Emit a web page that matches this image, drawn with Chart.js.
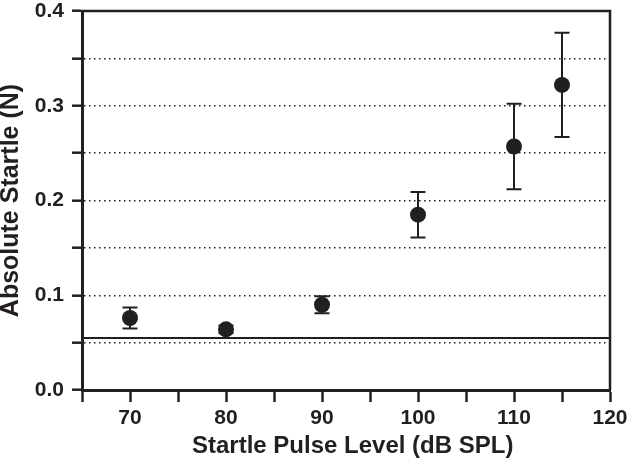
<!DOCTYPE html>
<html lang="en">
<head>
    <meta charset="UTF-8">
    <title>Absolute Startle</title>
    <script src="https://cdn.jsdelivr.net/npm/chart.js@4.4.1/dist/chart.umd.min.js"></script>
    <style>
        html, body { margin: 0; padding: 0; background: #fff; }
        #wrap { width: 630px; height: 464px; }
    </style>
</head>
<body>
    <div id="wrap"><canvas id="startleChart"></canvas></div>

    <script>
        // values
        const levels = [70, 80, 90, 100, 110, 115];
        const means = [0.076, 0.064, 0.090, 0.185, 0.257, 0.322];
        const errors = [0.011, 0.004, 0.009, 0.024, 0.045, 0.055];
        const baseline = 0.055;
        const xMin = 65, xMax = 120;
        const yMin = 0, yMax = 0.4;

        const ink = '#231f20';
        const fontFamily = '"Liberation Sans", Arial, Helvetica, sans-serif';

        const points = levels.map((x, i) => ({ x: x, y: means[i] }));
        const baseLine = [{ x: xMin, y: baseline }, { x: xMax, y: baseline }];

        // error bars drawn under the markers, through the chart scales
        const errorBars = {
            id: 'errorBars',
            beforeDatasetsDraw(chart) {
                const ctx = chart.ctx;
                const xs = chart.scales.x;
                const ys = chart.scales.y;
                ctx.save();
                ctx.strokeStyle = ink;
                ctx.lineWidth = 2;
                levels.forEach((lv, i) => {
                    const px = xs.getPixelForValue(lv);
                    const top = ys.getPixelForValue(means[i] + errors[i]);
                    const bot = ys.getPixelForValue(means[i] - errors[i]);
                    ctx.beginPath();
                    ctx.moveTo(px, top);
                    ctx.lineTo(px, bot);
                    ctx.moveTo(px - 7.5, top);
                    ctx.lineTo(px + 7.5, top);
                    ctx.moveTo(px - 7.5, bot);
                    ctx.lineTo(px + 7.5, bot);
                    ctx.stroke();
                });
                ctx.restore();
            }
        };

        // top and right edges of the box
        const frame = {
            id: 'frame',
            afterDraw(chart) {
                const { ctx, chartArea: a } = chart;
                ctx.save();
                ctx.strokeStyle = ink;
                ctx.lineWidth = 2.5;
                ctx.beginPath();
                ctx.moveTo(a.left, a.top);
                ctx.lineTo(a.right, a.top);
                ctx.lineTo(a.right, a.bottom);
                ctx.stroke();
                ctx.restore();
            }
        };

        const isEdge = v => Math.round(v * 100) === 0 || Math.round(v * 100) === 40;

        new Chart(document.getElementById('startleChart'), {
            type: 'scatter',
            data: {
                datasets: [
                    {
                        label: 'Baseline',
                        data: baseLine,
                        showLine: true,
                        borderColor: ink,
                        borderWidth: 2,
                        pointRadius: 0,
                        order: 2
                    },
                    {
                        label: 'Absolute startle',
                        data: points,
                        backgroundColor: ink,
                        borderWidth: 0,
                        pointRadius: 8,
                        pointHoverRadius: 8,
                        order: 1
                    }
                ]
            },
            options: {
                responsive: true,
                maintainAspectRatio: false,
                animation: false,
                layout: { padding: { top: 11, right: 20, left: 0, bottom: 0 } },
                plugins: {
                    legend: { display: false },
                    tooltip: { enabled: false }
                },
                scales: {
                    x: {
                        type: 'linear',
                        min: xMin,
                        max: xMax,
                        afterFit(scale) {
                            scale.height = 74;
                            scale.paddingLeft = 0;
                            scale.paddingRight = 0;
                        },
                        ticks: {
                            stepSize: 5,
                            autoSkip: false,
                            maxRotation: 0,
                            padding: 4,
                            color: ink,
                            font: { family: fontFamily, size: 21, weight: 'bold' },
                            callback: v => (v % 10 === 0 ? v : '')
                        },
                        grid: {
                            drawOnChartArea: false,
                            tickLength: 12,
                            tickWidth: 2.5,
                            tickColor: ink
                        },
                        border: { color: ink, width: 3 },
                        title: {
                            display: true,
                            text: '  Startle Pulse Level (dB SPL)',
                            color: ink,
                            padding: 6,
                            font: { family: fontFamily, size: 24, weight: 'bold', lineHeight: 1 }
                        }
                    },
                    y: {
                        min: yMin,
                        max: yMax,
                        afterFit(scale) {
                            scale.width = 82;
                            scale.paddingTop = 0;
                            scale.paddingBottom = 0;
                        },
                        ticks: {
                            stepSize: 0.05,
                            autoSkip: false,
                            padding: 8,
                            color: ink,
                            font: { family: fontFamily, size: 21, weight: 'bold' },
                            callback: v => {
                                const k = Math.round(v * 100);
                                return k % 10 === 0 ? (k / 100).toFixed(1) : '';
                            }
                        },
                        grid: {
                            color: c => (isEdge(c.tick.value) ? 'rgba(0,0,0,0)' : ink),
                            lineWidth: 1.4,
                            tickLength: 10,
                            tickWidth: 2.5,
                            tickColor: ink,
                            tickBorderDash: []
                        },
                        border: { color: ink, width: 3, dash: [1.5, 3.5] },
                        title: {
                            display: true,
                            text: 'Absolute Startle (N)',
                            color: ink,
                            padding: 0,
                            font: { family: fontFamily, size: 25, weight: 'bold', lineHeight: 0.9 }
                        }
                    }
                }
            },
            plugins: [errorBars, frame]
        });
    </script>
</body>
</html>
